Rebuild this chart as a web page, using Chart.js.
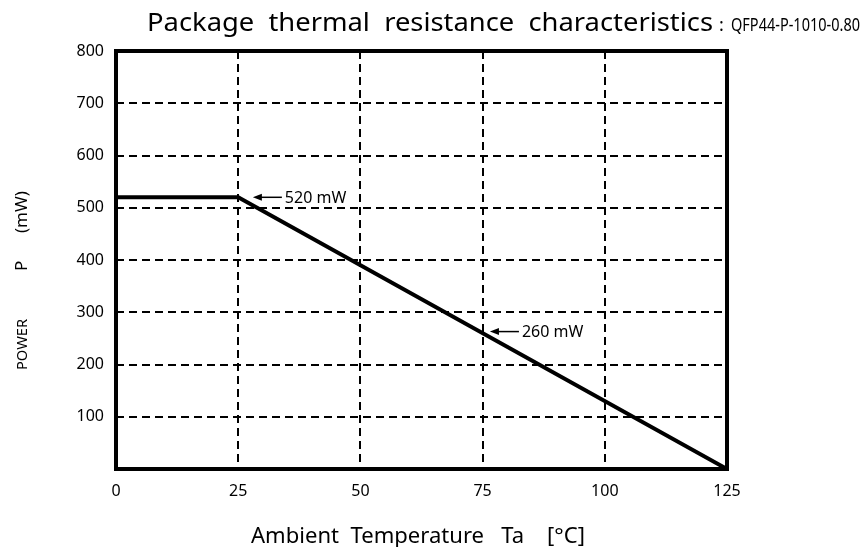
<!DOCTYPE html>
<html>
<head>
<meta charset="utf-8">
<script src="https://cdn.jsdelivr.net/npm/chart.js@4"></script>
<style>
  html, body { margin: 0; padding: 0; background: #fff; }
  #wrap { width: 866px; height: 547px; position: relative; }
</style>
</head>
<body>
<div id="wrap"><canvas id="ThermalChart"></canvas></div>
<script>
// derating curve
const tempC = [0, 25, 125]
const powerMw = [520, 520, 0]

// arrow notes: where the arrow points (data units) and what it says
const noteX = [28, 76.5]
const noteY = [520, 263]
const noteText = ["520 mW", "260 mW"]

const titleMain = "Package  thermal  resistance  characteristics"
const titleSub = "QFP44-P-1010-0.80"
const xTitle = "Ambient  Temperature   Ta    [\u00B0C]"

const FONT = "'Noto Sans', 'Open Sans', sans-serif"

// draw text squeezed/stretched to a given width
const fitText = (ctx, text, x, y, width) => {
  const w = ctx.measureText(text).width
  ctx.save()
  ctx.translate(x, y)
  ctx.scale(width / w, 1)
  ctx.fillText(text, 0, 0)
  ctx.restore()
}

const decorPlugin = {
  id: "decor",
  afterDatasetsDraw(chart) {
    const ctx = chart.ctx
    const a = chart.chartArea
    const xs = chart.scales.x
    const ys = chart.scales.y

    ctx.save()
    // heavy frame round the plot
    ctx.strokeStyle = "#000"
    ctx.lineWidth = 4
    ctx.setLineDash([])
    ctx.strokeRect(a.left, a.top, a.right - a.left, a.bottom - a.top)

    // arrow notes
    ctx.fillStyle = "#000"
    ctx.lineWidth = 1.5
    ctx.font = "16px " + FONT
    ctx.textBaseline = "middle"
    ctx.textAlign = "left"
    for (let i = 0; i < noteText.length; i++) {
      const px = xs.getPixelForValue(noteX[i])
      const py = ys.getPixelForValue(noteY[i])
      ctx.beginPath()
      ctx.moveTo(px + 6, py)
      ctx.lineTo(px + 29, py)
      ctx.stroke()
      ctx.beginPath()
      ctx.moveTo(px, py)
      ctx.lineTo(px + 9, py - 3.5)
      ctx.lineTo(px + 9, py + 3.5)
      ctx.closePath()
      ctx.fill()
      ctx.fillText(noteText[i], px + 32, py + 1)
    }
    ctx.restore()
  },
  afterDraw(chart) {
    const ctx = chart.ctx
    ctx.save()
    ctx.fillStyle = "#000"
    ctx.textBaseline = "alphabetic"
    ctx.textAlign = "left"

    // title
    ctx.font = "26px " + FONT
    fitText(ctx, titleMain, 147, 31, 566)
    ctx.font = "18px " + FONT
    ctx.fillText(":", 719, 31)
    fitText(ctx, titleSub, 731, 31, 129)

    // x axis title
    ctx.font = "22px " + FONT
    fitText(ctx, xTitle, 251, 543, 334)

    // y axis title, rotated
    ctx.translate(27, 0)
    ctx.rotate(-Math.PI / 2)
    ctx.font = "14px " + FONT
    fitText(ctx, "POWER", -370, 0, 51)
    ctx.font = "17px " + FONT
    ctx.fillText("P", -271, 0)
    ctx.fillText("(mW)", -233, 0)
    ctx.restore()
  }
}

const createChart = (canvas) => {
  const ctx = canvas.getContext("2d")
  return new Chart(ctx, {
    type: "scatter",
    data: {
      datasets: [
        {
          label: "Power",
          data: tempC.map((t, i) => ({ x: t, y: powerMw[i] })),
          showLine: true,
          borderColor: "#000",
          backgroundColor: "#000",
          borderWidth: 4,
          pointRadius: 0,
          tension: 0,
        },
      ],
    },
    options: {
      responsive: false,
      animation: false,
      layout: {
        padding: { left: 0, top: 51, right: 139, bottom: 0 }
      },
      scales: {
        x: {
          type: "linear",
          min: 0,
          max: 125,
          afterFit: (scale) => { scale.height = 78 },
          ticks: {
            stepSize: 25,
            color: "#000",
            padding: 13,
            font: { size: 16, family: FONT },
          },
          grid: {
            color: "#000",
            lineWidth: 2,
            drawTicks: false,
          },
          border: { display: false, dash: [8, 5] },
        },
        y: {
          min: 0,
          max: 800,
          afterFit: (scale) => { scale.width = 116 },
          ticks: {
            stepSize: 100,
            color: "#000",
            padding: 12,
            font: { size: 16, family: FONT },
            callback: (v) => (v === 0 ? "" : v),
          },
          grid: {
            color: "#000",
            lineWidth: 2,
            drawTicks: false,
          },
          border: { display: false, dash: [8, 5] },
        },
      },
      plugins: {
        legend: { display: false },
        tooltip: { enabled: false },
      },
    },
    plugins: [decorPlugin],
  })
}

const canvas = document.getElementById("ThermalChart")
canvas.width = 866
canvas.height = 547
createChart(canvas)
</script>
</body>
</html>
